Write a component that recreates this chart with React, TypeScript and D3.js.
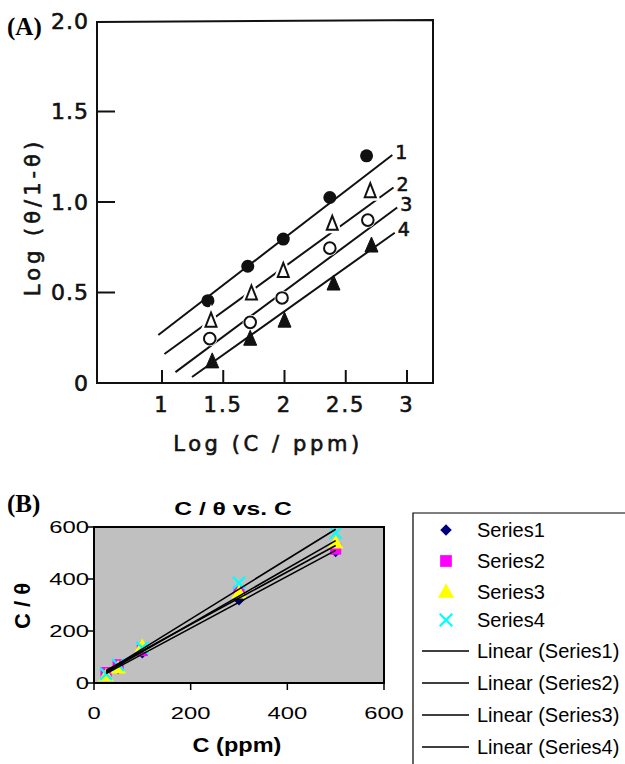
import React from "react";
import * as d3 from "d3";

// ---------- Panel A data (log-log) ----------
const aTicksX = [1, 1.5, 2, 2.5, 3];
const aTickLabelsX = ["1", "1.5", "2", "2.5", "3"];
const aTicksY = [0, 0.5, 1.0, 1.5, 2.0];
const aTickLabelsY = ["0", "0.5", "1.0", "1.5", "2.0"];

const a1x = [1.375, 1.7, 1.99, 2.37, 2.67];
const a1y = [0.455, 0.645, 0.795, 1.025, 1.255];
const a2x = [1.4, 1.73, 1.99, 2.39, 2.7];
const a2y = [0.35, 0.5, 0.625, 0.885, 1.065];
const a3x = [1.39, 1.72, 1.98, 2.37, 2.68];
const a3y = [0.245, 0.335, 0.47, 0.745, 0.9];
const a4x = [1.41, 1.72, 2.0, 2.4, 2.71];
const a4y = [0.125, 0.25, 0.35, 0.555, 0.765];

// fitted lines as drawn: [x0, y0, x1, y1]
const aLine1 = [0.97, 0.265, 2.88, 1.26];
const aLine2 = [1.02, 0.16, 2.89, 1.08];
const aLine3 = [1.11, 0.06, 2.92, 0.97];
const aLine4 = [1.245, 0.033, 2.9, 0.83];
const aLineLabels = ["1", "2", "3", "4"];

// ---------- Panel B data ----------
const bX = [25, 50, 100, 300, 500];
const bS1 = [35, 55, 115, 319, 505];
const bS2 = [40, 70, 125, 350, 515];
const bS3 = [28, 58, 140, 346, 538];
const bS4 = [35, 70, 135, 385, 577];
const bTicks = [0, 200, 400, 600];
const bSeriesNames = ["Series1", "Series2", "Series3", "Series4"];
const bLinearNames = ["Linear (Series1)", "Linear (Series2)", "Linear (Series3)", "Linear (Series4)"];

function linreg(xs: number[], ys: number[]) {
  const mx = d3.mean(xs)!;
  const my = d3.mean(ys)!;
  let num = 0, den = 0;
  xs.forEach((x, i) => {
    num += (x - mx) * (ys[i] - my);
    den += (x - mx) * (x - mx);
  });
  const m = num / den;
  return { m, b: my - m * mx };
}

const fontA = "'DejaVu Sans', sans-serif";
const fontB = "Arial, 'Liberation Sans', sans-serif";
const fontSerif = "'Liberation Serif', 'Times New Roman', serif";

export default function App() {
  // Panel A scales
  const ax = d3.scaleLinear().domain([1, 3]).range([162, 407]);
  const ay = d3.scaleLinear().domain([0, 2]).range([383, 21]);
  const frameA = { l: 97, t: 21, r: 433, b: 383 };

  const lines = [aLine1, aLine2, aLine3, aLine4];
  const lineGen = d3.line<number[]>().x((d) => ax(d[0])).y((d) => ay(d[1]));

  const triPath = (cx: number, cy: number, w: number, h: number) =>
    `M${cx},${cy - h / 2}L${cx + w / 2},${cy + h / 2}L${cx - w / 2},${cy + h / 2}Z`;

  // Panel B scales
  const bx = d3.scaleLinear().domain([0, 600]).range([94, 384]);
  const by = d3.scaleLinear().domain([0, 600]).range([683, 527]);
  const bSeries = [bS1, bS2, bS3, bS4];
  const fits = bSeries.map((s) => linreg(bX, s));
  const x0 = d3.min(bX)!;
  const x1 = d3.max(bX)!;

  const square = d3.symbol().type(d3.symbolSquare);
  const triangle = d3.symbol().type(d3.symbolTriangle);

  const markerB = (i: number, cx: number, cy: number, scale: number, key: string) => {
    if (i === 0)
      return (
        <path key={key} d={square.size(60 * scale)()!} transform={`translate(${cx},${cy}) rotate(45)`} fill="#000080" />
      );
    if (i === 1)
      return <path key={key} d={square.size(125 * scale)()!} transform={`translate(${cx},${cy})`} fill="#ff00ff" />;
    if (i === 2)
      return <path key={key} d={triangle.size(105 * scale)()!} transform={`translate(${cx},${cy + 1})`} fill="#ffff00" />;
    const s = 6 * Math.sqrt(scale);
    return (
      <g key={key} stroke="#00ffff" strokeWidth={2.2}>
        <line x1={cx - s} y1={cy - s} x2={cx + s} y2={cy + s} />
        <line x1={cx - s} y1={cy + s} x2={cx + s} y2={cy - s} />
      </g>
    );
  };

  const legendRowsY = [530, 561, 592, 620, 651, 683, 715, 747];
  const inkA = { fill: "#111", stroke: "#111", strokeWidth: 0.6 };

  return (
    <svg width={625} height={764} style={{ position: "absolute", left: 0, top: 0, background: "#fff" }}>
      {/* ================= Panel A ================= */}
      <text x={7} y={35} fontFamily={fontSerif} fontWeight="bold" fontSize={25}>
        (A)
      </text>
      <g fill="none" stroke="#111" strokeWidth={2}>
        <path d={`M${frameA.l},${frameA.b}L${frameA.l},${frameA.t + 1}L${frameA.r},${frameA.t - 1}L${frameA.r},${frameA.b}Z`} />
      </g>
      {aTicksY.slice(1, 4).map((v) => (
        <line key={"ty" + v} x1={frameA.l} x2={frameA.l + 18} y1={ay(v)} y2={ay(v)} stroke="#111" strokeWidth={2} />
      ))}
      {aTicksX.map((v) => (
        <line key={"tx" + v} x1={ax(v)} x2={ax(v)} y1={frameA.b} y2={frameA.b - 13} stroke="#111" strokeWidth={2} />
      ))}
      {aTicksY.map((v, i) => (
        <text key={"ly" + v} x={89} y={ay(v)} dy="0.36em" textAnchor="end" fontFamily={fontA} fontSize={22} letterSpacing={1} {...inkA}>
          {aTickLabelsY[i]}
        </text>
      ))}
      {aTicksX.map((v, i) => (
        <text key={"lx" + v} x={ax(v)} y={412} textAnchor="middle" fontFamily={fontA} fontSize={21} letterSpacing={2} {...inkA}>
          {aTickLabelsX[i]}
        </text>
      ))}
      <text x={268} y={451} textAnchor="middle" fontFamily={fontA} fontSize={21} letterSpacing={3.6} {...inkA}>
        Log (C / ppm)
      </text>
      <text
        transform="translate(40,217) rotate(-90)"
        textAnchor="middle"
        fontFamily={fontA}
        fontSize={21}
        letterSpacing={4}
        {...inkA}
      >
        Log (θ/1-θ)
      </text>

      {/* lines */}
      {lines.map((l, i) => (
        <path key={"al" + i} d={lineGen([[l[0], l[1]], [l[2], l[3]]])!} stroke="#111" strokeWidth={2} fill="none" />
      ))}
      {lines.map((l, i) => (
        <text key={"alab" + i} x={ax(l[2]) + 3} y={ay(l[3]) - 3} dy="0.35em" fontFamily={fontA} fontSize={19} {...inkA}>
          {aLineLabels[i]}
        </text>
      ))}
      {/* series 1: filled circles */}
      {a1x.map((x, i) => (
        <circle key={"a1" + i} cx={ax(x)} cy={ay(a1y[i])} r={6.5} fill="#111" />
      ))}
      {/* series 2: open triangles */}
      {a2x.map((x, i) => (
        <g key={"a2" + i}>
          <path d={triPath(ax(x), ay(a2y[i]), 12, 15)} fill="#fff" stroke="#fff" strokeWidth={6} />
          <path d={triPath(ax(x), ay(a2y[i]), 11, 14)} fill="#fff" stroke="#111" strokeWidth={2} />
        </g>
      ))}
      {/* series 3: open circles */}
      {a3x.map((x, i) => (
        <g key={"a3" + i}>
          <circle cx={ax(x)} cy={ay(a3y[i])} r={7.5} fill="#fff" />
          <circle cx={ax(x)} cy={ay(a3y[i])} r={5.8} fill="#fff" stroke="#111" strokeWidth={2} />
        </g>
      ))}
      {/* series 4: filled triangles */}
      {a4x.map((x, i) => (
        <path key={"a4" + i} d={triPath(ax(x), ay(a4y[i]), 13, 15)} fill="#111" stroke="#111" strokeWidth={1} />
      ))}

      {/* ================= Panel B ================= */}
      <text x={7} y={512} fontFamily={fontSerif} fontWeight="bold" fontSize={25}>
        (B)
      </text>
      <text transform="translate(233,515) scale(1.3,1)" textAnchor="middle" fontFamily={fontB} fontWeight="bold" fontSize={19}>
        C / θ vs. C
      </text>
      <rect x={bx(0)} y={by(600)} width={bx(600) - bx(0)} height={by(0) - by(600)} fill="#c0c0c0" />
      {/* markers */}
      {bSeries.map((s, si) =>
        s.map((v, i) => markerB(si, bx(bX[i]), by(v), 1, `bm${si}-${i}`))
      )}
      {/* trend lines */}
      {fits.map((f, i) => (
        <line key={"bf" + i} x1={bx(x0)} y1={by(f.m * x0 + f.b)} x2={bx(x1)} y2={by(f.m * x1 + f.b)} stroke="#000" strokeWidth={1.6} />
      ))}
      <rect x={bx(0)} y={by(600)} width={bx(600) - bx(0)} height={by(0) - by(600)} fill="none" stroke="#000" strokeWidth={2} />
      {bTicks.map((v) => (
        <g key={"bt" + v}>
          <line x1={bx(0) - 7} x2={bx(0)} y1={by(v)} y2={by(v)} stroke="#000" strokeWidth={1.5} />
          <line x1={bx(v)} x2={bx(v)} y1={by(0)} y2={by(0) + 7} stroke="#000" strokeWidth={1.5} />
          <text transform={`translate(89,${by(v) + 6}) scale(1.4,1)`} textAnchor="end" fontFamily={fontB} fontSize={17}>
            {v}
          </text>
          <text transform={`translate(${bx(v)},719) scale(1.4,1)`} textAnchor="middle" fontFamily={fontB} fontSize={17}>
            {v}
          </text>
        </g>
      ))}
      <text transform="translate(237,752) scale(1.12,1)" textAnchor="middle" fontFamily={fontB} fontWeight="bold" fontSize={21}>
        C (ppm)
      </text>
      <text transform="translate(30,606) rotate(-90)" textAnchor="middle" fontFamily={fontB} fontWeight="bold" fontSize={22}>
        C / θ
      </text>

      {/* legend */}
      <path d="M413,770L413,513L626,513" fill="none" stroke="#000" strokeWidth={1.2} />
      {bSeriesNames.map((n, i) => (
        <g key={"lg" + i}>
          {markerB(i, 446, legendRowsY[i], 1.1, "lgm" + i)}
          <text x={477} y={legendRowsY[i]} dy="0.36em" fontFamily={fontB} fontSize={20}>
            {n}
          </text>
        </g>
      ))}
      {bLinearNames.map((n, i) => (
        <g key={"ll" + i}>
          <line x1={422} x2={469} y1={legendRowsY[i + 4]} y2={legendRowsY[i + 4]} stroke="#000" strokeWidth={1.5} />
          <text x={477} y={legendRowsY[i + 4]} dy="0.36em" fontFamily={fontB} fontSize={20}>
            {n}
          </text>
        </g>
      ))}
    </svg>
  );
}
